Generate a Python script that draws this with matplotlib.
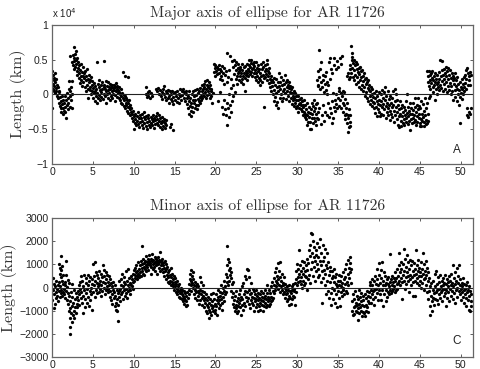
import matplotlib
matplotlib.use("Agg")
import numpy as np
import matplotlib.pyplot as plt

# values, hours vs length
# major axis, in units of 1e4 km
major_a = [(0.05,0.33),(0.05,-0.2),(0.1,0.15),(0.12,0.08),(0.15,0.28),(0.2,0.2),(0.22,0.05),(0.28,0.24),(0.3,0.12),(0.35,0.3),(0.38,0.02),(0.42,0.17),(0.48,0.09),(0.5,0.22),(0.55,0.04),(0.6,0.14),(0.65,-0.02),(0.7,0.1),(0.75,-0.06),(0.8,0.03),(0.85,-0.12),(0.9,0.05),(0.95,-0.17),(1.0,-0.04),(1.05,-0.2),(1.1,-0.1),(1.15,-0.26),(1.2,-0.02),(1.25,-0.14),(1.3,-0.28),(1.35,-0.08),(1.4,-0.2),(1.45,-0.24),(1.5,-0.12),(1.55,-0.02),(1.6,-0.18),(1.65,-0.26),(1.7,-0.34),(1.75,-0.08),(1.8,-0.15),(1.85,0.02),(1.9,-0.22),(1.95,-0.05),(2.0,-0.12),(2.05,0.08),(2.1,0.19),(2.15,-0.03),(2.2,-0.18),(2.25,0.05),(2.3,0.1),(2.35,-0.08),(2.4,0.19),(2.45,-0.2),(2.5,0.0),
(2.25,0.55),(2.45,0.47),(2.55,0.56),(2.6,0.42),(2.65,0.52),(2.7,0.36),(2.72,0.68),(2.75,0.48),(2.8,0.58),(2.85,0.4),(2.9,0.62),(2.92,0.5),(2.95,0.44),(3.0,0.33),(3.05,0.53),(3.1,0.28),(3.15,0.46),(3.2,0.38),(3.25,0.24),(3.3,0.42),(3.35,0.3),(3.4,0.16),(3.45,0.35),(3.5,0.26),(3.55,0.43),(3.6,0.2),(3.65,0.32),(3.7,0.12),(3.75,0.27),(3.8,0.39),(3.85,0.17),(3.9,0.3),(3.95,0.24),(4.0,0.1),(4.05,0.34),(4.1,0.2),(4.15,0.04),(4.2,0.27),(4.25,0.14),(4.3,0.37),(4.35,0.08),(4.4,0.22),(4.45,-0.05),(4.5,0.17),(4.55,0.28),(4.6,0.06),(4.65,0.2),(4.7,0.1),(4.75,0.25),(4.8,0.0),(4.85,0.14),(4.9,0.04),(4.95,0.19),(5.0,-0.06),(5.05,0.09),(5.1,0.02),(5.15,0.16),(5.2,-0.1),(5.25,0.05),(5.3,0.12),(5.35,-0.03),(5.4,0.08),(5.5,0.46),(5.5,-0.12),(5.55,0.02),(5.6,0.15),(5.65,-0.05),(5.7,0.1),(5.75,0.2),(5.8,-0.01),(5.85,0.06),(5.9,-0.09),(5.95,0.13),(6.0,0.03),(6.05,-0.04),(6.1,0.17),(6.15,0.07),(6.2,-0.07),(6.3,0.48),(6.3,0.11),(6.35,0.01),(6.4,0.14),(6.45,-0.02),(6.5,0.08),(6.55,0.19),(6.6,0.04),(6.65,-0.12),(6.7,0.12),(6.75,0.0),(6.8,0.17),(6.85,0.06),(6.9,-0.05),(6.95,0.1),(7.0,0.02),(7.05,0.15),(7.1,-0.08),(7.15,0.07),(7.2,0.11),(7.25,-0.02),(7.3,0.05),(7.35,0.13),(7.4,-0.06),(7.45,0.09),(7.5,0.01),(7.55,0.14),(7.6,0.06),(7.65,-0.1),(7.7,0.1),(7.75,-0.01),(7.8,0.16),(7.85,0.04),(7.9,0.08),(7.95,-0.04),(8.0,0.12),(8.05,0.02),(8.1,0.06),(8.15,-0.06),(8.2,0.1),(8.25,0.03),(8.3,-0.09),(8.35,0.0),(8.4,0.07),(8.45,-0.12),(8.5,-0.03),(8.55,0.02),(8.6,-0.14),(8.7,0.32),(8.7,-0.06),(8.75,-0.01),(8.8,-0.17),(8.85,-0.09),(8.9,0.27),(8.9,-0.03),(8.95,-0.2),(9.0,-0.12),(9.05,-0.05),(9.1,-0.16),(9.15,-0.24),(9.2,-0.08),(9.25,-0.19),(9.3,0.25),(9.3,-0.12),(9.35,-0.27),(9.4,-0.18),(9.45,-0.09),(9.5,-0.22),(9.55,-0.3),(9.6,-0.15),(9.65,-0.26),(9.7,-0.2),(9.75,-0.34),(9.8,-0.28),(9.85,-0.38),(9.9,-0.24)]
major_b = [(10.0,-0.5),(10.02,-0.32),(10.1,-0.41),(10.15,-0.28),(10.2,-0.36),(10.3,-0.45),(10.35,-0.31),(10.4,-0.39),(10.5,-0.26),(10.55,-0.43),(10.6,-0.35),(10.7,-0.48),(10.75,-0.3),(10.8,-0.4),(10.9,-0.34),(10.95,-0.44),(11.0,-0.28),(11.05,-0.38),(11.15,-0.49),(11.2,-0.33),(11.25,-0.42),(11.3,-0.25),(11.4,-0.36),(11.45,-0.46),(11.5,-0.31),(11.6,-0.4),(11.65,-0.5),(11.7,-0.35),(11.8,-0.3),(11.85,-0.44),(11.9,-0.38),(12.0,-0.48),(12.05,-0.33),(12.1,-0.41),(12.2,-0.36),(12.25,-0.45),(12.3,-0.3),(12.4,-0.39),(12.45,-0.49),(12.5,-0.34),(12.6,-0.43),(12.65,-0.37),(12.7,-0.32),(12.8,-0.41),(12.85,-0.27),(12.9,-0.36),(13.0,-0.44),(13.05,-0.3),(13.1,-0.39),(13.2,-0.47),(13.25,-0.35),(13.3,-0.42),(13.4,-0.5),(13.45,-0.38),(13.5,-0.33),(13.6,-0.46),(13.65,-0.4),(13.7,-0.36),(13.8,-0.49),(13.85,-0.42),(13.9,-0.37),(14.0,-0.44),(14.4,-0.47),(14.5,-0.43),(14.8,-0.51),
(11.45,0.11),(11.5,0.0),(11.6,-0.04),(11.7,0.03),(11.8,-0.02),(11.9,0.05),(12.0,-0.05),(12.1,0.02),(12.2,-0.03),(12.75,0.08),(12.85,0.05),(13.0,0.09),(13.1,0.0),(13.2,0.06),(13.3,-0.03),(13.4,0.03),(13.5,-0.07),(13.6,0.08),(13.7,0.01),(13.75,0.12),(13.8,-0.04),(13.9,0.05),(14.0,-0.09),(14.05,0.02),(14.15,-0.05),(14.2,0.06),(14.3,-0.02),(14.35,-0.12),(14.45,0.04),(14.5,-0.07),(14.6,0.0),(14.65,-0.1),(14.7,0.05),(14.8,-0.04),(14.85,-0.14),(14.95,0.02),(15.0,-0.08),(15.1,0.03),(15.15,-0.02),(15.25,-0.11),(15.3,0.05),(15.4,-0.06),(15.5,0.01),(15.55,-0.13),(15.65,0.07),(15.7,-0.03),(15.8,-0.09),(15.85,0.04),(15.95,-0.01),(16.0,0.07),(16.1,-0.06),(16.2,0.03),(16.25,-0.1),(16.35,0.0),(16.45,0.05),
(16.5,-0.06),(16.55,-0.14),(16.6,-0.02),(16.65,-0.2),(16.7,-0.1),(16.75,-0.28),(16.8,0.04),(16.85,-0.17),(16.9,-0.06),(16.95,-0.24),(17.0,-0.31),(17.05,-0.12),(17.1,0.0),(17.15,-0.19),(17.2,-0.08),(17.25,-0.25),(17.3,0.05),(17.35,-0.13),(17.4,-0.03),(17.45,-0.2),(17.5,-0.09),(17.55,0.06),(17.6,-0.15),(17.65,-0.01),(17.7,-0.22),(17.75,0.07),(17.8,-0.07),(17.85,-0.16),(17.9,0.02),(17.95,-0.1),(18.0,0.05),(18.05,-0.04),(18.1,-0.13),(18.15,0.09),(18.2,-0.02),(18.25,-0.08),(18.3,0.04),(18.35,0.13),(18.4,-0.05),(18.45,0.08),(18.5,0.0),(18.55,0.15),(18.6,-0.03),(18.65,0.1),(18.7,0.03),(18.75,0.19),(18.8,-0.06),(18.85,0.07),(18.9,0.13),(18.95,-0.01),(19.0,0.21),(19.05,0.05),(19.1,0.11),(19.15,0.17),(19.2,0.01),(19.25,0.09),(19.3,-0.06),(19.35,0.14),(19.4,0.04),(19.45,-0.03),(19.5,0.08),(19.6,-0.12),(19.7,0.02),(19.8,0.43),(19.85,0.32),(19.9,0.38),(19.95,0.27),(20.0,0.42),(20.1,0.34),(20.15,0.29),(20.2,0.4),(20.3,0.36),(20.35,-0.1),(20.4,0.42),(20.45,0.3),(20.5,0.22),(20.55,0.37),(20.6,0.03),(20.65,0.26),(20.7,0.33),(20.75,0.41),(20.8,-0.18),(20.85,0.2),(20.9,0.3),(20.95,-0.28),(21.0,0.38),(21.05,0.15),(21.1,-0.09),(21.15,0.28),(21.2,-0.22),(21.25,0.33),(21.3,-0.3),(21.35,0.18),(21.4,-0.12),(21.45,0.6),(21.45,-0.45),(21.5,0.25),(21.55,-0.2),(21.6,0.35),(21.65,-0.33),(21.7,0.01),(21.75,0.55),(21.8,-0.15),(21.85,0.22),(21.9,-0.25),(21.95,0.09),(22.0,0.48),(22.05,-0.1),(22.1,0.4),(22.15,0.13),(22.2,-0.02),(22.25,0.5),(22.3,0.29),(22.35,0.03),(22.4,0.42),(22.45,0.22),(22.5,0.35),(22.55,0.47),(22.6,0.27),(22.65,0.15),(22.7,0.38),(22.75,0.31),(22.8,0.44),(22.85,0.21),(22.9,0.33),(22.95,0.4),(23.0,0.26)]
major_c = [(23.05,0.37),(23.1,0.18),(23.15,0.3),(23.2,0.43),(23.25,0.22),(23.3,0.35),(23.35,0.27),(23.4,0.15),(23.45,0.39),(23.5,0.3),(23.55,0.24),(23.6,0.04),(23.65,0.41),(23.7,0.28),(23.75,0.33),(23.8,0.2),(23.85,0.44),(23.9,0.31),(23.95,0.37),(24.0,0.26),(24.05,0.42),(24.1,0.34),(24.15,0.49),(24.2,0.29),(24.25,0.39),(24.3,0.45),(24.35,0.32),(24.4,0.5),(24.45,0.36),(24.5,0.27),(24.55,0.44),(24.6,0.38),(24.65,0.47),(24.7,0.31),(24.75,0.41),(24.8,0.25),(24.85,0.35),(24.9,0.46),(24.95,0.3),(25.0,0.2),(25.05,0.38),(25.1,0.27),(25.15,0.42),(25.2,0.17),(25.25,0.33),(25.3,0.24),(25.35,0.37),(25.4,0.14),(25.45,0.3),(25.5,0.21),(25.55,0.43),(25.6,0.26),(25.65,0.36),(25.7,0.18),(25.75,0.4),(25.8,0.28),(25.85,0.47),(25.9,0.23),(25.95,-0.18),(26.0,0.33),(26.05,0.42),(26.1,0.25),(26.15,0.37),(26.2,0.29),(26.25,0.44),(26.3,0.49),(26.35,0.21),(26.4,0.34),(26.45,0.26),(26.5,0.38),(26.55,0.16),(26.6,0.3),(26.65,0.22),(26.7,0.11),(26.75,0.26),(26.8,0.18),(26.85,0.05),(26.9,0.21),(26.95,0.12),(27.0,0.0),(27.05,0.17),(27.1,-0.1),(27.15,0.24),(27.2,0.06),(27.25,-0.04),(27.3,0.14),(27.35,-0.16),(27.4,0.22),(27.45,0.02),(27.5,0.1),(27.55,-0.11),(27.6,0.17),(27.65,0.05),(27.7,-0.2),(27.75,0.12),(27.8,0.31),(27.85,-0.06),(27.9,0.08),(27.95,0.18),(28.0,0.0),(28.05,0.25),(28.1,-0.1),(28.15,0.13),(28.2,0.05),(28.25,0.21),(28.3,-0.05),(28.35,0.15),(28.4,0.08),(28.5,0.28),(28.55,0.02),(28.6,0.18),(28.65,-0.07),(28.7,0.11),(28.75,0.2),(28.8,0.04),(28.85,0.14),(28.9,-0.02),(28.95,0.09),(29.0,0.17),(29.05,-0.1),(29.1,0.03),(29.15,0.12),(29.2,-0.05),(29.25,0.07),(29.3,-0.14),(29.35,0.02),(29.4,0.1),(29.45,-0.09),(29.5,-0.02),(29.55,0.05),(29.6,-0.17),(29.65,-0.06),(29.7,0.02),(29.75,-0.12),(29.8,-0.03),(29.85,-0.2),(29.9,-0.08),(29.95,-0.01),(30.0,-0.17),(30.05,-0.26),(30.1,-0.09),(30.15,-0.03),(30.2,-0.14),(30.25,-0.2),(30.3,-0.07),(30.35,-0.12),(30.4,-0.22),(30.45,-0.05),(30.5,-0.16),(30.55,-0.1),(30.6,-0.24),(30.65,-0.15),(30.7,-0.3),(30.75,-0.19),(30.8,-0.08),(30.85,-0.26),(30.9,-0.33),(30.95,-0.16),(31.0,-0.28),(31.05,-0.22),(31.1,-0.36),(31.15,-0.12),(31.2,-0.3),(31.25,-0.44),(31.3,-0.25),(31.35,-0.4),(31.4,-0.18),(31.45,-0.33),(31.5,-0.5),(31.55,-0.27),(31.6,-0.4),(31.65,-0.5),(31.7,-0.21),(31.75,-0.35),(31.8,-0.13),(31.85,-0.29),(31.9,-0.42),(31.95,-0.17),(32.0,-0.24),(32.05,-0.34),(32.1,-0.08),(32.15,-0.2),(32.2,-0.39),(32.25,-0.14),(32.3,-0.28),(32.35,-0.45),(32.4,-0.12),(32.45,-0.34),(32.5,-0.25),(32.55,0.12),(32.6,-0.36),(32.65,0.25),(32.7,0.64),(32.7,-0.2),(32.75,0.08),(32.8,0.36),(32.85,-0.43),(32.9,0.18),(32.95,0.47),(33.0,-0.3)]
major_d = [(32.4,0.2),(32.5,0.34),(32.55,0.14),(33.05,0.1),(33.1,0.28),(33.15,-0.15),(33.2,0.21),(33.25,0.03),(33.3,-0.38),(33.35,0.26),(33.4,0.15),(33.45,-0.25),(33.5,0.32),(33.55,0.06),(33.6,-0.3),(33.65,0.18),(33.7,0.0),(33.75,-0.12),(33.8,0.13),(33.85,0.47),(33.9,-0.33),(33.95,0.22),(34.0,-0.2),(34.05,0.53),(34.1,0.37),(34.15,-0.27),(34.2,-0.41),(34.25,0.3),(34.3,-0.1),(34.35,-0.35),(34.4,0.02),(34.45,0.42),(34.5,-0.18),(34.55,0.52),(34.6,-0.08),(34.65,-0.24),(34.7,0.36),(34.75,-0.14),(34.8,0.0),(34.85,0.48),(34.9,-0.2),(34.95,-0.05),(35.0,0.39),(35.05,0.05),(35.1,-0.17),(35.15,0.09),(35.2,0.53),(35.25,-0.09),(35.3,0.02),(35.35,-0.2),(35.4,0.44),(35.45,-0.03),(35.5,0.55),(35.55,-0.12),(35.6,0.05),(35.65,-0.25),(35.7,0.03),(35.75,-0.15),(35.8,-0.3),(35.85,-0.07),(35.9,-0.36),(35.95,-0.2),(36.0,-0.28),(36.05,-0.42),(36.1,-0.12),(36.15,-0.3),(36.2,-0.55),(36.25,-0.35),(36.3,-0.48),(36.35,-0.22),(36.4,-0.4),(36.45,-0.3),(36.5,-0.46),
(36.1,0.27),(36.2,0.3),(36.3,0.22),(36.4,0.37),(36.45,0.25),(36.5,0.42),(36.55,0.3),(36.6,0.7),(36.65,0.5),(36.7,0.6),(36.72,0.38),(36.75,0.54),(36.8,0.25),(36.85,0.45),(36.9,0.35),(36.95,0.5),(37.0,0.2),(37.05,0.42),(37.1,0.28),(37.15,0.47),(37.2,0.15),(37.25,0.36),(37.3,0.25),(37.35,0.43),(37.4,0.32),(37.45,0.17),(37.5,0.38),(37.55,0.1),(37.6,0.29),(37.65,0.4),(37.7,0.2),(37.75,0.33),(37.8,0.08),(37.85,0.25),(37.9,0.35),(37.95,0.13),(38.0,0.27),(38.05,0.05),(38.1,0.19),(38.15,0.3),(38.2,0.1),(38.25,0.22),(38.3,-0.02),(38.35,0.15),(38.4,0.24),(38.45,0.03),(38.5,0.17),(38.55,-0.05),(38.6,0.09),(38.65,0.2),(38.7,-0.1),(38.75,0.06),(38.8,0.13),(38.85,-0.03),(38.9,-0.14),(38.95,0.04),(39.0,0.1),(39.05,-0.08),(39.1,0.0),(39.15,-0.17),(39.2,0.07),(39.25,-0.11),(39.3,-0.04),(39.35,-0.2),(39.4,0.02),(39.45,-0.13),(39.5,-0.27),(39.55,-0.06),(39.6,0.05),(39.65,-0.18),(39.7,-0.1),(39.75,-0.31),(39.8,-0.02),(39.85,-0.22),(39.9,-0.14),(39.95,0.03),(40.0,-0.25),(40.05,-0.08),(40.1,-0.32),(40.15,-0.16),(40.2,0.01),(40.25,-0.1),(40.3,-0.28),(40.35,-0.19),(40.4,0.06),(40.45,-0.05),(40.5,-0.14),(40.55,-0.3),(40.6,0.03),(40.65,-0.22),(40.7,0.1),(40.75,-0.09),(40.8,-0.35),(40.85,-0.17),(40.9,-0.03),(40.95,-0.25),(41.0,-0.12),(41.05,0.04),(41.1,-0.2),(41.15,-0.3),(41.2,-0.07),(41.25,-0.16),(41.3,-0.37),(41.35,-0.24),(41.4,-0.02),(41.45,-0.12),(41.5,-0.29),(41.55,-0.19),(41.6,-0.05),(41.65,-0.33),(41.7,0.05),(41.75,-0.15),(41.8,-0.24),(41.85,-0.4),(41.9,0.07),(41.95,-0.1),(42.0,-0.3)]
major_e = [(42.05,-0.18),(42.1,0.0),(42.15,-0.36),(42.2,-0.08),(42.25,-0.25),(42.3,-0.44),(42.35,-0.15),(42.4,-0.32),(42.45,-0.22),(42.5,-0.48),(42.55,-0.28),(42.6,-0.1),(42.65,-0.38),(42.7,-0.2),(42.75,-0.46),(42.8,-0.31),(42.85,-0.15),(42.9,-0.41),(42.95,-0.26),(43.0,-0.36),(43.05,-0.19),(43.1,-0.44),(43.15,-0.3),(43.2,-0.23),(43.25,-0.4),(43.3,-0.1),(43.35,-0.34),(43.4,0.01),(43.45,-0.27),(43.5,-0.43),(43.55,-0.18),(43.6,-0.32),(43.65,-0.24),(43.7,-0.38),(43.75,-0.13),(43.8,-0.29),(43.85,-0.52),(43.9,-0.36),(43.95,-0.2),(44.0,-0.42),(44.05,-0.28),(44.1,-0.12),(44.15,-0.35),(44.2,-0.23),(44.25,-0.4),(44.3,-0.3),(44.35,-0.06),(44.4,-0.18),(44.45,-0.37),(44.5,-0.26),(44.55,-0.44),(44.6,-0.15),(44.65,-0.31),(44.7,-0.4),(44.75,-0.22),(44.8,-0.05),(44.85,-0.34),(44.9,-0.17),(44.95,-0.28),(45.0,-0.42),(45.05,-0.2),(45.1,-0.36),(45.15,-0.1),(45.2,-0.46),(45.25,-0.29),(45.3,-0.39),(45.35,-0.14),(45.4,-0.33),(45.45,-0.46),(45.5,-0.24),(45.55,-0.4),(45.6,-0.06),(45.65,-0.3),(45.7,-0.43),(45.75,-0.2),(45.8,-0.37),(45.85,-0.12),(45.9,-0.42),(45.95,-0.28),(46.0,-0.38),(46.1,-0.05),(46.2,-0.02),(45.0,-0.46),
(45.9,0.33),(46.0,0.26),(46.05,0.18),(46.1,0.34),(46.15,0.12),(46.2,0.28),(46.25,0.2),(46.3,0.07),(46.35,0.3),(46.4,0.16),(46.45,0.24),(46.5,0.33),(46.55,0.1),(46.6,0.2),(46.65,0.03),(46.7,0.26),(46.75,0.13),(46.8,0.18),(46.85,0.3),(46.9,-0.08),(46.95,0.08),(47.0,0.22),(47.05,0.15),(47.1,0.01),(47.15,0.28),(47.2,0.1),(47.25,0.18),(47.3,0.32),(47.35,0.06),(47.4,0.22),(47.45,0.14),(47.5,0.5),(47.55,0.26),(47.6,0.09),(47.65,0.35),(47.7,0.48),(47.75,0.19),(47.8,0.28),(47.85,0.04),(47.9,0.37),(47.95,0.15),(48.0,0.22),(48.05,0.3),(48.1,0.08),(48.15,0.39),(48.2,0.17),(48.25,0.26),(48.3,0.03),(48.35,0.33),(48.4,0.12),(48.45,0.22),(48.5,0.38),(48.55,0.06),(48.6,0.28),(48.65,0.16),(48.7,0.35),(48.75,0.01),(48.8,0.24),(48.85,0.12),(48.9,0.31),(48.95,0.05),(49.0,0.2),(49.05,0.27),(49.1,-0.08),(49.15,0.15),(49.2,0.24),(49.25,0.06),(49.3,0.3),(49.35,-0.04),(49.4,0.12),(49.45,0.2),(49.5,-0.1),(49.55,0.08),(49.6,0.25),(49.65,0.01),(49.7,0.15),(49.75,-0.15),(49.8,0.06),(49.85,0.18),(49.9,-0.04),(49.95,-0.42),(50.0,0.1),(50.05,0.02),(50.1,0.22),(50.15,-0.07),(50.2,0.08),(50.25,0.15),(50.3,0.0),(50.35,0.25),(50.4,0.11),(50.45,0.04),(50.5,0.28),(50.55,0.16),(50.6,0.35),(50.65,0.08),(50.7,0.22),(50.72,-0.3),(50.75,0.38),(50.8,-0.2),(50.85,0.3),(50.88,-0.33),(50.9,0.13),(50.95,0.26),(51.0,-0.25),(51.05,0.2),(51.1,0.32),(51.12,-0.28),(51.15,0.14),(51.2,-0.2),(51.25,0.28)]

# minor axis, km
minor_a = [(0.05,-550),(0.1,400),(0.15,-100),(0.2,-900),(0.25,150),(0.3,-300),(0.35,-700),(0.4,50),(0.45,-200),(0.5,-450),(0.55,280),(0.6,-80),(0.65,-350),(0.7,100),(0.75,-600),(0.8,230),(0.85,-150),(0.9,1000),(0.92,-400),(0.95,600),(1.0,50),(1.02,850),(1.05,-250),(1.08,450),(1.1,1350),(1.12,750),(1.15,-100),(1.2,300),(1.22,920),(1.25,-350),(1.3,150),(1.35,-200),(1.4,550),(1.45,-50),(1.5,-300),(1.55,250),(1.6,-450),(1.65,100),(1.7,1150),(1.72,-150),(1.75,550),(1.8,-550),(1.85,30),(1.9,-250),(1.95,320),(2.0,-700),(2.02,-1000),(2.05,-350),(2.1,200),(2.15,-1300),(2.18,-2000),(2.2,-600),(2.22,-1700),(2.25,-900),(2.3,-200),(2.35,-1100),(2.4,-1500),(2.42,150),(2.45,-800),(2.5,-400),(2.55,-1200),(2.6,-650),(2.65,-1000),(2.7,-1300),(2.75,-100),(2.8,-850),(2.85,-500),(2.9,-1100),(2.95,-250),(3.0,-700),(3.05,-400),(3.1,-850),(3.15,-150),(3.2,-550),(3.25,100),(3.3,-300),(3.35,-750),(3.4,250),(3.45,-50),(3.5,-450),(3.55,500),(3.6,-200),(3.65,-650),(3.7,300),(3.75,50),(3.8,-1100),(3.85,-350),(3.9,550),(3.95,-100),(4.0,-850),(4.05,-500),(4.1,200),(4.15,-250),(4.2,400),(4.25,-650),(4.3,-50),(4.35,530),(4.4,-400),(4.45,100),(4.5,-800),(4.55,300),(4.6,-150),(4.65,-550),(4.7,450),(4.75,0),(4.8,-300),(4.85,150),(4.9,-950),(4.95,350),(5.0,-200),(5.05,1000),(5.1,500),(5.15,100),(5.2,1100),(5.25,-400),(5.3,300),(5.35,650),(5.4,-100),(5.45,200),(5.5,-250),(5.55,550),(5.6,50),(5.65,400),(5.7,-200),(5.75,700),(5.8,150),(5.85,-50),(5.9,300),(5.95,600),(6.0,-350),(6.05,100),(6.1,450),(6.15,-150),(6.2,950),(6.25,250),(6.3,750),(6.35,0),(6.4,500),(6.45,-300),(6.5,200),(6.55,650),(6.6,-100),(6.65,350),(6.7,50),(6.75,550),(6.8,-200),(6.85,250),(6.9,-50),(6.95,500),(7.0,100),(7.05,-400),(7.1,350),(7.15,-150),(7.2,-550),(7.25,200),(7.3,-300),(7.35,50),(7.4,-700),(7.45,-100),(7.5,250),(7.55,-450),(7.6,-200),(7.65,-800),(7.7,100),(7.75,-350),(7.8,-650),(7.85,-950),(7.9,-100),(7.95,-500),(8.0,-1000),(8.05,-250),(8.1,-1450),(8.1,-750),(8.15,300),(8.2,-400),(8.25,-150),(8.3,-600),(8.35,-50),(8.4,-300),(8.45,100),(8.5,350),(8.55,-200),(8.6,600),(8.65,50),(8.7,-500),(8.75,250),(8.8,-100),(8.85,450),(8.9,-350),(8.95,150),(9.0,-50),(9.05,700),(9.1,-250),(9.15,300),(9.2,-450),(9.25,100),(9.3,800),(9.35,-150),(9.4,400),(9.45,0),(9.5,-300),(9.55,200),(9.6,-100),(9.65,500),(9.7,100),(9.75,350),(9.8,50),(9.85,600),(9.9,250),(9.95,-50)]
minor_b = [(10.0,750),(10.05,300),(10.1,550),(10.15,850),(10.2,400),(10.25,650),(10.3,950),(10.35,500),(10.4,700),(10.45,350),(10.5,600),(10.55,1080),(10.6,450),(10.65,800),(10.7,550),(10.75,950),(10.8,650),(10.85,1150),(10.9,500),(10.95,850),(11.0,1800),(11.02,700),(11.05,1000),(11.1,600),(11.15,1250),(11.2,900),(11.25,1050),(11.3,550),(11.35,800),(11.4,1150),(11.45,950),(11.5,1350),(11.55,700),(11.6,1100),(11.65,900),(11.7,1250),(11.75,1000),(11.8,750),(11.85,1400),(11.9,1150),(11.95,950),(12.0,1050),(12.05,600),(12.1,1250),(12.15,900),(12.2,1150),(12.25,1430),(12.3,1000),(12.35,800),(12.4,1200),(12.45,1050),(12.5,900),(12.55,1320),(12.6,1100),(12.65,700),(12.7,1250),(12.75,950),(12.8,1150),(12.85,1050),(12.9,600),(12.95,1300),(13.0,1000),(13.05,850),(13.1,1200),(13.15,1100),(13.2,700),(13.25,1550),(13.3,950),(13.35,1150),(13.4,800),(13.45,1050),(13.5,1250),(13.55,650),(13.6,950),(13.65,1100),(13.7,500),(13.75,850),(13.8,1150),(13.85,700),(13.9,1000),(13.95,350),(14.0,800),(14.05,550),(14.1,900),(14.15,250),(14.2,650),(14.25,450),(14.3,750),(14.35,200),(14.4,550),(14.45,300),(14.5,850),(14.55,100),(14.6,450),(14.65,250),(14.7,600),(14.75,50),(14.8,350),(14.85,150),(14.9,500),(14.95,-100),(15.0,250),(15.05,50),(15.1,400),(15.15,-200),(15.2,150),(15.25,-50),(15.3,300),(15.35,-300),(15.4,50),(15.45,-150),(15.5,150),(15.55,-400),(15.6,-100),(15.65,-250),(15.7,-450),(15.75,0),(15.8,-200),(15.85,-500),(15.9,-300),(15.95,-100),(16.0,-600),(16.05,-350),(16.1,-150),(16.15,-450),(16.2,-700),(16.25,-250),(16.3,-550),(16.35,-350),(16.4,-800),(16.45,-600),(16.5,-200),(16.55,-750),(16.6,-450),(16.7,-100),(16.75,-300),(16.8,150),(16.85,350),(16.9,600),(16.95,100),(17.0,750),(17.02,300),(17.05,-150),(17.1,500),(17.15,200),(17.2,650),(17.25,0),(17.3,350),(17.35,-300),(17.4,100),(17.45,-100),(17.5,250),(17.55,-450),(17.6,50),(17.65,-200),(17.7,150),(17.75,-550),(17.8,-150),(17.85,50),(17.9,-350),(17.95,-700),(18.0,-250),(18.05,450),(18.1,-100),(18.15,-550),(18.2,-300),(18.25,250),(18.3,-450),(18.35,-150),(18.4,-750),(18.45,100),(18.5,-350),(18.55,-550),(18.6,-200),(18.65,-850),(18.7,-450),(18.75,-650),(18.8,-1000),(18.85,-300),(18.9,-750),(18.95,-550),(19.0,-1100),(19.05,-400),(19.1,-850),(19.15,-650),(19.2,-1300),(19.25,-950),(19.3,-500),(19.35,-1050),(19.4,-750),(19.45,-1200),(19.5,-300),(19.55,-900),(19.6,-600),(19.65,-1000),(19.7,-250),(19.75,-800)]
minor_c = [(19.8,-500),(19.9,-1100),(19.95,-700),(20.0,-950),(20.05,-300),(20.1,-800),(20.15,-550),(20.2,-1200),(20.25,-100),(20.3,-650),(20.35,-400),(20.4,-900),(20.45,-550),(20.5,-200),(20.55,-750),(20.6,-350),(20.65,100),(20.7,-500),(20.75,-950),(20.8,-250),(20.85,-650),(20.9,0),(20.95,-400),(21.0,-150),(21.05,-600),(21.1,300),(21.15,-300),(21.2,50),(21.25,600),(21.3,-200),(21.35,250),(21.4,950),(21.42,1800),(21.45,450),(21.5,1250),(21.55,100),(21.6,750),(21.65,1100),(21.7,300),(21.75,550),(21.8,850),(21.85,-150),(21.9,400),(21.95,650),(22.0,150),(22.05,-400),(22.1,250),(22.15,-700),(22.2,-250),(22.25,-850),(22.3,-550),(22.35,-1000),(22.4,-350),(22.45,-750),(22.5,-150),(22.55,-900),(22.6,-600),(22.65,-1100),(22.7,-450),(22.75,-800),(22.8,-1000),(22.85,-300),(22.9,-650),(22.95,-850),(23.0,-100),(23.05,-550),(23.1,-1200),(23.15,-400),(23.2,-750),(23.25,50),(23.3,-500),(23.35,-950),(23.4,200),(23.45,-300),(23.5,-650),(23.55,500),(23.6,-150),(23.65,-800),(23.7,-400),(23.75,350),(23.8,-600),(23.85,-200),(23.9,800),(23.95,-450),(24.0,750),(24.05,-100),(24.1,-700),(24.15,450),(24.2,-300),(24.25,-900),(24.3,-550),(24.35,200),(24.4,-250),(24.45,-650),(24.5,-400),(24.55,-50),(24.6,-750),(24.65,-450),(24.7,-1000),(24.75,-150),(24.8,-600),(24.85,-300),(24.9,-850),(24.95,-500),(25.0,-100),(25.05,-700),(25.1,-350),(25.15,-1000),(25.2,-550),(25.25,-250),(25.3,-800),(25.35,-450),(25.4,-650),(25.45,-950),(25.5,-300),(25.55,-550),(25.6,-150),(25.65,-750),(25.7,-400),(25.75,-1000),(25.8,-600),(25.85,-250),(25.9,-800),(25.95,-450),(26.0,-100),(26.05,-650),(26.1,-350),(26.15,-850),(26.2,-500),(26.25,100),(26.3,-750),(26.35,-250),(26.4,-600),(26.45,-400),(26.5,-800),(26.55,-100),(26.6,-500),(26.65,-700),(26.7,-250),(26.75,-600),(26.8,50),(26.85,-400),(26.9,-550),(26.95,250),(27.0,-150),(27.05,-450),(27.1,400),(27.15,-250),(27.2,100),(27.25,650),(27.3,-100),(27.35,300),(27.4,850),(27.45,50),(27.5,500),(27.55,200),(27.6,1050),(27.65,-50),(27.7,350),(27.75,700),(27.8,100),(27.85,450),(27.9,1080),(27.95,-200),(28.0,300),(28.05,50),(28.1,600),(28.15,-100),(28.2,200),(28.25,-300),(28.3,100),(28.35,450),(28.4,-200),(28.45,0),(28.5,-450),(28.55,150),(28.6,-100),(28.65,-300),(28.7,-600),(28.75,50),(28.8,-250),(28.85,-500),(28.9,-100),(28.95,-750),(29.0,-350),(29.05,100),(29.1,-150),(29.15,-450),(29.2,-700),(29.25,-250),(29.3,50),(29.35,-500),(29.4,-100),(29.45,-350),(29.5,150),(29.55,-150),(29.6,-400),(29.65,-50),(29.7,-750),(29.75,200),(29.8,-200)]
minor_d = [(29.85,350),(29.9,700),(29.95,100),(30.0,1000),(30.05,450),(30.1,250),(30.15,800),(30.2,600),(30.25,1600),(30.3,300),(30.35,950),(30.4,150),(30.45,700),(30.5,450),(30.55,1150),(30.6,0),(30.65,600),(30.7,300),(30.75,850),(30.8,100),(30.85,1100),(30.9,500),(30.95,700),(31.0,200),(31.05,950),(31.1,450),(31.15,-100),(31.2,750),(31.25,1250),(31.3,350),(31.35,1050),(31.4,550),(31.45,1600),(31.5,200),(31.55,1350),(31.6,1850),(31.65,800),(31.7,2350),(31.75,1100),(31.8,2300),(31.85,1500),(31.9,500),(31.95,2000),(32.0,1300),(32.05,900),(32.1,1750),(32.15,300),(32.2,1150),(32.25,1600),(32.3,700),(32.35,1400),(32.4,1900),(32.45,1000),(32.5,450),(32.55,1300),(32.6,800),(32.65,1750),(32.7,550),(32.75,1150),(32.8,2100),(32.85,250),(32.9,950),(32.95,1500),(33.0,-650),(33.05,700),(33.1,1850),(33.15,1150),(33.2,400),(33.25,1300),(33.3,750),(33.35,100),(33.4,1650),(33.45,600),(33.5,950),(33.55,-300),(33.6,1500),(33.65,300),(33.7,850),(33.75,1100),(33.8,-150),(33.85,550),(33.9,-450),(33.95,700),(34.0,250),(34.05,900),(34.1,-250),(34.15,-750),(34.2,400),(34.25,700),(34.3,0),(34.35,500),(34.4,-500),(34.45,250),(34.5,800),(34.55,-100),(34.6,450),(34.65,-650),(34.7,150),(34.75,-300),(34.8,600),(34.85,50),(34.9,-850),(34.95,300),(35.0,-150),(35.05,550),(35.1,-450),(35.15,100),(35.2,-800),(35.25,300),(35.3,-200),(35.35,500),(35.4,50),(35.45,-350),(35.5,200),(35.55,-100),(35.6,650),(35.65,0),(35.7,350),(35.75,-300),(35.8,800),(35.85,150),(35.9,450),(35.95,-150),(36.0,1000),(36.05,250),(36.1,-250),(36.15,600),(36.2,1200),(36.25,100),(36.3,850),(36.35,400),(36.4,1300),(36.45,650),(36.5,1050),(36.55,200),(36.6,800),
(36.7,-1000),(36.75,-600),(36.8,-1200),(36.85,-300),(36.9,-850),(36.95,-1150),(37.0,-500),(37.05,-800),(37.1,-150),(37.15,-1000),(37.2,-650),(37.25,-350),(37.3,-1050),(37.35,-750),(37.4,-1400),(37.42,-500),(37.45,-900),(37.5,-100),(37.55,-700),(37.6,-1100),(37.65,-400),(37.7,-850),(37.75,-250),(37.8,-1000),(37.85,-600),(37.9,-1250),(37.95,-750),(38.0,-350),(38.05,-1050),(38.1,-550),(38.15,-800),(38.2,-1100),(38.25,-1250),(38.3,-300),(38.35,-750),(38.4,-1000),(38.45,-450),(38.5,-150),(38.55,-850),(38.6,-600),(38.65,-350),(38.7,-1050),(38.75,-200),(38.8,-650),(38.85,100),(38.9,-400),(38.95,250),(39.0,-100),(39.05,-650),(39.1,350),(39.15,-300),(39.2,100),(39.25,-500),(39.3,-150),(39.35,-750),(39.4,300),(39.45,-100),(39.5,500),(39.55,-400),(39.6,150),(39.65,-50),(39.7,800),(39.75,-250),(39.8,350),(39.85,-550),(39.9,100),(39.95,-100),(40.0,1050),(40.05,550),(40.1,-300),(40.15,200),(40.2,750),(40.25,-550),(40.3,400),(40.35,-100),(40.4,1100),(40.45,100),(40.5,-800),(40.55,300),(40.6,650),(40.65,-300),(40.7,100),(40.75,500),(40.8,-600),(40.85,200),(40.9,-100),(40.95,350),(41.0,-400),(41.05,150),(41.1,-200),(41.15,450),(41.2,50),(41.25,-300),(41.3,1450),(41.35,250),(41.4,-100),(41.45,350),(41.5,-250),(41.55,100),(41.6,500),(41.65,-150),(41.7,250),(41.75,-50),(41.8,400),(41.85,50),(41.9,-200),(41.95,300)]
minor_e = [(42.0,650),(42.05,-100),(42.1,400),(42.15,150),(42.2,800),(42.25,-50),(42.3,500),(42.35,200),(42.4,950),(42.45,300),(42.5,1500),(42.55,650),(42.6,100),(42.65,1100),(42.7,400),(42.75,800),(42.8,-500),(42.85,250),(42.9,1000),(42.95,550),(43.0,1650),(43.05,300),(43.1,700),(43.15,1250),(43.2,-50),(43.25,450),(43.3,900),(43.35,150),(43.4,1400),(43.45,650),(43.5,300),(43.55,1100),(43.6,500),(43.65,-200),(43.7,800),(43.75,350),(43.8,1200),(43.85,550),(43.9,100),(43.95,950),(44.0,450),(44.05,1150),(44.1,250),(44.15,700),(44.2,-350),(44.25,550),(44.3,1050),(44.35,300),(44.4,800),(44.45,-350),(44.5,1600),(44.55,600),(44.6,200),(44.65,950),(44.7,400),(44.75,1200),(44.8,700),(44.85,100),(44.9,500),(44.95,850),(45.0,300),(45.05,650),(45.1,1100),(45.15,0),(45.2,500),(45.25,800),(45.3,200),(45.35,1500),(45.4,600),(45.45,350),(45.5,1000),(45.55,-100),(45.6,700),(45.65,400),(45.7,1150),(45.75,100),(45.8,550),(45.85,850),(45.9,-200),(45.95,300),(46.0,650),(46.05,-500),(46.1,-150),(46.15,400),(46.2,-1200),(46.25,50),(46.3,-800),(46.35,-350),(46.4,200),(46.45,-600),(46.5,-1000),(46.55,-100),(46.6,-450),(46.65,300),(46.7,-750),(46.75,-250),(46.8,600),(46.85,-500),(46.9,50),(46.95,-200),(47.0,700),(47.05,-550),(47.1,150),(47.15,-100),(47.2,450),(47.25,-700),(47.3,-300),(47.35,250),(47.4,-50),(47.45,-450),(47.5,550),(47.55,50),(47.6,-200),(47.65,300),(47.7,-600),(47.75,-100),(47.8,400),(47.85,100),(47.9,-350),(47.95,200),(48.0,-50),(48.05,550),(48.1,-250),(48.15,150),(48.2,-800),(48.25,-100),(48.3,350),(48.35,-450),(48.4,50),(48.45,250),(48.5,-200),(48.55,500),(48.6,-600),(48.65,-50),(48.7,300),(48.75,-350),(48.8,100),(48.85,600),(48.9,-150),(48.95,200),(49.0,-500),(49.05,950),(49.1,50),(49.15,-250),(49.2,400),(49.25,-650),(49.3,150),(49.35,650),(49.4,-100),(49.45,300),(49.5,850),(49.55,0),(49.6,-400),(49.65,200),(49.7,500),(49.75,-150),(49.8,950),(49.85,100),(49.9,-300),(49.95,350),(50.0,-50),(50.05,-550),(50.1,200),(50.15,-200),(50.2,50),(50.25,-400),(50.3,400),(50.35,-100),(50.4,-650),(50.45,150),(50.5,-300),(50.55,-50),(50.6,-800),(50.65,100),(50.7,-450),(50.75,-200),(50.8,250),(50.85,-550),(50.9,-100),(50.95,-950),(51.0,50),(51.05,-350),(51.1,-1000),(51.15,-150),(51.2,-600),(51.25,-800),(51.3,-300)]

major_pts = np.array(major_a + major_b + major_c + major_d + major_e)
minor_pts = np.array(minor_a + minor_b + minor_c + minor_d + minor_e)

x_ticks = [0, 5, 10, 15, 20, 25, 30, 35, 40, 45, 50]
major_ticks = [-1, -0.5, 0, 0.5, 1]
major_labels = ["\u22121", "\u22120.5", "0", "0.5", "1"]
minor_ticks = [-3000, -2000, -1000, 0, 1000, 2000, 3000]
minor_labels = ["\u22123000", "\u22122000", "\u22121000", "0", "1000", "2000", "3000"]

W, H = 480.0, 369.0
sans = "Liberation Sans"
serif = "cmr10"
plt.rcParams["axes.formatter.use_mathtext"] = True

fig = plt.figure(figsize=(W / 100, H / 100), dpi=100)
ax1 = fig.add_axes([52 / W, 1 - 163.5 / H, (473 - 52) / W, (163.5 - 25) / H])
ax2 = fig.add_axes([52 / W, 1 - 357 / H, (473 - 52) / W, (357 - 218) / H])


def setup(ax, pts, yticks, ylabels, ylim, title, tag, tag_y):
    ax.plot(pts[:, 0], pts[:, 1], ls="none", marker="o", ms=2.35, mfc="k", mec="none")
    ax.axhline(0, color="#222222", lw=0.8)
    ax.set_xlim(0, 51.5)
    ax.set_ylim(*ylim)
    ax.set_xticks(x_ticks)
    ax.set_yticks(yticks)
    ax.set_yticklabels(ylabels, family=sans, fontsize=7.6, color="#222222")
    ax.set_xticklabels([str(t) for t in x_ticks], family=sans, fontsize=7.6, color="#222222")
    ax.tick_params(direction="in", top=True, right=True, length=2.5, width=0.6, color="#444444", pad=2.5)
    for s in ax.spines.values():
        s.set_linewidth(0.9)
        s.set_color("#666666")
    ax.set_title(title, family=serif, fontsize=11.3, color="#333333", pad=6, x=0.512)
    ax.set_ylabel("Length (km)", family=serif, fontsize=11.5, color="#333333")
    ax.text(0.962, tag_y, tag, transform=ax.transAxes, family=sans, fontsize=8.5, color="#222222", ha="center", va="center")


setup(ax1, major_pts, major_ticks, major_labels, (-1, 1), "Major axis of ellipse for AR 11726", "A", 0.097)
setup(ax2, minor_pts, minor_ticks, minor_labels, (-3000, 3000), "Minor axis of ellipse for AR 11726", "C", 0.115)
ax1.yaxis.set_label_coords(-0.062, 0.5)
ax2.yaxis.set_label_coords(-0.083, 0.5)
ax1.text(0, 1.035, r"x 10$^{4}$", transform=ax1.transAxes, family=sans, fontsize=7, color="#222222", ha="left", va="bottom")

fig.savefig("out.png", dpi=100)
